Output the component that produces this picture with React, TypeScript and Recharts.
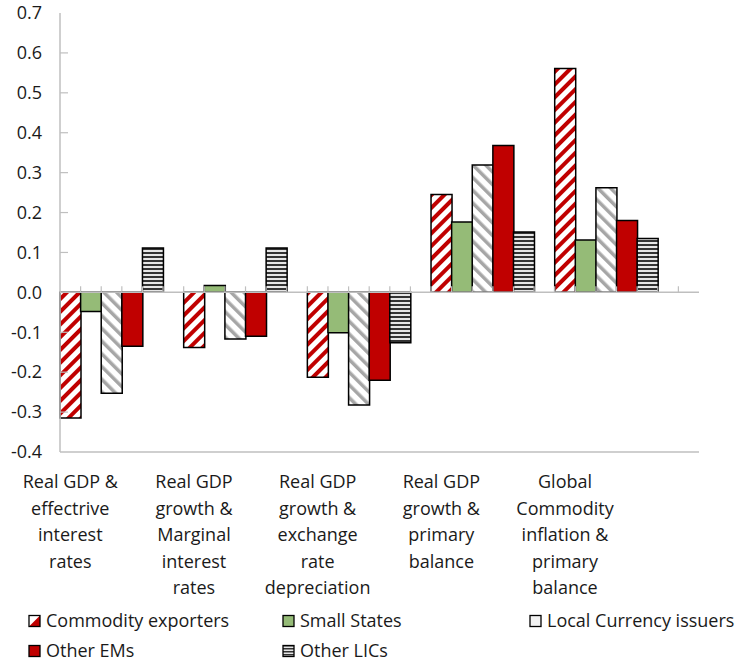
import React from 'react';
import { BarChart, Bar, XAxis, YAxis, ReferenceLine } from 'recharts';

// ---------- data ----------
const groupLabels: string[][] = [
  ['Real GDP &', 'effectrive', 'interest', 'rates'],
  ['Real GDP', 'growth &', 'Marginal', 'interest', 'rates'],
  ['Real GDP', 'growth &', 'exchange', 'rate', 'depreciation'],
  ['Real GDP', 'growth &', 'primary', 'balance'],
  ['Global', 'Commodity', 'inflation &', 'primary', 'balance'],
];

const seriesNames = ['Commodity exporters', 'Small States', 'Local Currency issuers', 'Other EMs', 'Other LICs'];

const commodityExporters = [-0.315, -0.138, -0.213, 0.245, 0.561];
const smallStates = [-0.048, 0.017, -0.101, 0.176, 0.131];
const localCurrencyIssuers = [-0.253, -0.117, -0.282, 0.319, 0.262];
const otherEMs = [-0.135, -0.11, -0.22, 0.368, 0.18];
const otherLICs = [0.111, 0.111, -0.126, 0.151, 0.135];

const yTicks = [-0.4, -0.3, -0.2, -0.1, 0.0, 0.1, 0.2, 0.3, 0.4, 0.5, 0.6, 0.7];

// ---------- layout ----------
const CHART_W = 737;
const CHART_H = 600;
const PLOT_LEFT = 60;
const PLOT_RIGHT = 699;
const PLOT_TOP = 13;
const PLOT_BOTTOM = 452;
const SLOTS = 31;
const SLOT_W = (PLOT_RIGHT - PLOT_LEFT) / SLOTS;
const Y_MIN = -0.4;
const Y_MAX = 0.7;
const ZERO_Y = PLOT_TOP + ((Y_MAX - 0) / (Y_MAX - Y_MIN)) * (PLOT_BOTTOM - PLOT_TOP);
const GRAY = '#BFBFBF';
const FONT = '"Open Sans", "Segoe UI", sans-serif';
const TEXT = '#1a1a1a';

const series = [
  { key: 'ce', name: seriesNames[0], values: commodityExporters, fill: 'url(#ceStripe)' },
  { key: 'ss', name: seriesNames[1], values: smallStates, fill: '#95BB77' },
  { key: 'lc', name: seriesNames[2], values: localCurrencyIssuers, fill: 'url(#lcStripe)' },
  { key: 'em', name: seriesNames[3], values: otherEMs, fill: '#C00000' },
  { key: 'lic', name: seriesNames[4], values: otherLICs, fill: 'url(#licStripe)' },
];

const data = Array.from({ length: SLOTS }, (_, i) => {
  const row: any = { slot: String(i) };
  const g = Math.floor(i / 6);
  const s = i % 6;
  if (g < groupLabels.length && s < series.length) {
    row[series[s].key] = series[s].values[g];
  }
  return row;
});

const XTick = (props: any) => {
  const { x, payload } = props;
  const idx = Number(payload.value);
  const g = idx / 6;
  const lines = Number.isInteger(g) && g < groupLabels.length ? groupLabels[g] : [];
  const bx = x - SLOT_W / 2;
  return (
    <g>
      {idx > 0 && (
        <line x1={bx} x2={bx} y1={ZERO_Y - 6} y2={ZERO_Y} stroke={GRAY} strokeWidth={1.2} />
      )}
      {lines.map((t, k) => (
        <text
          key={k}
          x={x}
          y={PLOT_BOTTOM + 36 + k * 26.5}
          textAnchor="middle"
          fontFamily={FONT}
          fontSize={18}
          fill={TEXT}
        >
          {t}
        </text>
      ))}
    </g>
  );
};

const YTick = (props: any) => {
  const { y, payload } = props;
  const v = Number(payload.value);
  return (
    <g>
      <text x={42} y={y} dy="0.35em" textAnchor="end" fontFamily={FONT} fontSize={18} fill={TEXT}>
        {v.toFixed(1)}
      </text>
      {v > Y_MIN && v < Y_MAX && (
        <line x1={PLOT_LEFT} x2={PLOT_LEFT + 8} y1={y} y2={y} stroke={GRAY} strokeWidth={1.2} />
      )}
    </g>
  );
};

const legendPos = [
  { x: 29, y: 621 },
  { x: 283, y: 621 },
  { x: 530, y: 621 },
  { x: 29, y: 651 },
  { x: 283, y: 651 },
];

const LegendIcon = ({ i, x, y }: { i: number; x: number; y: number }) => {
  const s = 11;
  const top = y - s / 2;
  if (i === 0) {
    return (
      <g>
        <rect x={x} y={top} width={s} height={s} fill="#fff" />
        <polygon points={`${x + s},${top} ${x + s},${top + s} ${x},${top + s}`} fill="#C00000" />
        <rect x={x} y={top} width={s} height={s} fill="none" stroke="#000" strokeWidth={1.3} />
      </g>
    );
  }
  const fills = ['', '#95BB77', '#F2F2F2', '#C00000', 'url(#licLegend)'];
  return <rect x={x} y={top} width={s} height={s} fill={fills[i]} stroke="#000" strokeWidth={1.3} />;
};

export default function App() {
  return (
    <div style={{ position: 'absolute', left: 0, top: 0, width: 737, height: 663, background: '#fff' }}>
      <BarChart
        width={CHART_W}
        height={CHART_H}
        data={data}
        margin={{ top: PLOT_TOP, right: CHART_W - PLOT_RIGHT, bottom: 0, left: 0 }}
        barCategoryGap={0}
        barGap={0}
      >
        <defs>
          <pattern id="ceStripe" patternUnits="userSpaceOnUse" width={9} height={9} patternTransform="rotate(45)">
            <rect width={9} height={9} fill="#fff" />
            <rect width={4} height={9} fill="#C00000" />
          </pattern>
          <pattern id="lcStripe" patternUnits="userSpaceOnUse" width={9} height={9} patternTransform="rotate(-45)">
            <rect width={9} height={9} fill="#fff" />
            <rect width={3.5} height={9} fill="#A6A6A6" />
          </pattern>
          <pattern id="licStripe" patternUnits="userSpaceOnUse" width={4} height={4}>
            <rect width={4} height={4} fill="#E6E6E6" />
            <rect y={0} width={4} height={2} fill="#333" />
          </pattern>
        </defs>
        <XAxis
          dataKey="slot"
          type="category"
          interval={0}
          tickLine={false}
          axisLine={{ stroke: GRAY, strokeWidth: 1.5 }}
          height={CHART_H - PLOT_BOTTOM}
          tick={<XTick />}
          tickSize={0}
        />
        <XAxis
          xAxisId="top"
          dataKey="slot"
          orientation="top"
          tick={false}
          tickLine={false}
          axisLine={{ stroke: GRAY, strokeWidth: 1.5 }}
          height={0}
        />
        <YAxis
          type="number"
          domain={[Y_MIN, Y_MAX]}
          ticks={yTicks}
          interval={0}
          width={PLOT_LEFT}
          tickLine={false}
          axisLine={{ stroke: GRAY, strokeWidth: 1.5 }}
          tick={<YTick />}
          allowDataOverflow
        />
        <YAxis
          yAxisId="right"
          orientation="right"
          type="number"
          domain={[Y_MIN, Y_MAX]}
          tick={false}
          tickLine={false}
          axisLine={{ stroke: GRAY, strokeWidth: 1.5 }}
          width={0}
        />
        {series.map((s) => (
          <Bar
            key={s.key}
            dataKey={s.key}
            name={s.name}
            stackId="a"
            fill={s.fill}
            stroke="#000"
            strokeWidth={1.5}
            isAnimationActive={false}
          />
        ))}
        <ReferenceLine y={0} stroke={GRAY} strokeWidth={1.5} />
      </BarChart>
      <svg width={737} height={663} style={{ position: 'absolute', left: 0, top: 0, pointerEvents: 'none' }}>
        <defs>
          <pattern id="licLegend" patternUnits="userSpaceOnUse" width={3} height={3}>
            <rect width={3} height={3} fill="#E6E6E6" />
            <rect width={3} height={1.5} fill="#333" />
          </pattern>
        </defs>
        {seriesNames.map((n, i) => (
          <g key={n}>
            <LegendIcon i={i} x={legendPos[i].x} y={legendPos[i].y} />
            <text
              x={legendPos[i].x + 17}
              y={legendPos[i].y}
              dy="0.35em"
              fontFamily={FONT}
              fontSize={18}
              fill={TEXT}
            >
              {n}
            </text>
          </g>
        ))}
      </svg>
    </div>
  );
}
